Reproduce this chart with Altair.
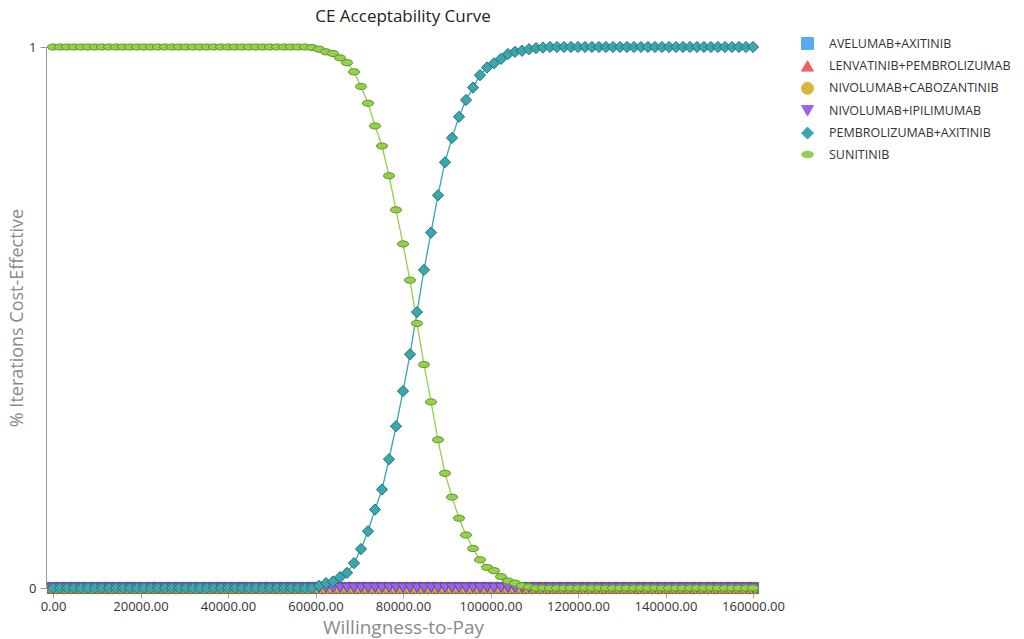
import altair as alt
import pandas as pd

wtp = [i * 1600 for i in range(101)]

series_names = [
    "AVELUMAB+AXITINIB",
    "LENVATINIB+PEMBROLIZUMAB",
    "NIVOLUMAB+CABOZANTINIB",
    "NIVOLUMAB+IPILIMUMAB",
    "PEMBROLIZUMAB+AXITINIB",
    "SUNITINIB",
]

avelumab = [0.0] * 101
lenvatinib = [0.0] * 101
cabozantinib = [0.0] * 101
ipilimumab = [0.0] * 101

pembrolizumab = [0.0] * 38 + [
    0.004, 0.009, 0.012, 0.020, 0.028, 0.046, 0.072, 0.105, 0.145, 0.182,
    0.238, 0.299, 0.364, 0.432, 0.510, 0.588, 0.657, 0.726, 0.787, 0.832,
    0.871, 0.902, 0.925, 0.948, 0.962, 0.970, 0.978, 0.987, 0.991, 0.993,
    0.996, 0.998, 0.999,
] + [1.0] * 30

sunitinib = [1.0] * 37 + [0.999] + [
    0.996, 0.991, 0.988, 0.980, 0.971, 0.954, 0.927, 0.896, 0.854, 0.817,
    0.762, 0.699, 0.636, 0.569, 0.489, 0.413, 0.344, 0.274, 0.212, 0.168,
    0.129, 0.098, 0.073, 0.052, 0.038, 0.032, 0.021, 0.013, 0.009, 0.004,
    0.002,
] + [0.0] * 32

x_ticks = [0, 20000, 40000, 60000, 80000, 100000, 120000, 140000, 160000]
y_ticks = [0, 1]

line_colors = ["#5aaaf0", "#ef6060", "#d9b73a", "#9c63e6", "#3aa6ae", "#95cf4c"]
stroke_colors = ["#3a7fc0", "#c03a3a", "#9c8220", "#6a3db0", "#236f76", "#5e9a2c"]
ellipse = "M-1,0A1,0.55 0 1,0 1,0A1,0.55 0 1,0 -1,0Z"
shapes = ["square", "triangle-up", "circle", "triangle-down", "diamond", ellipse]

values = [avelumab, lenvatinib, cabozantinib, ipilimumab, pembrolizumab, sunitinib]
rows = []
for order, (name, vals) in enumerate(zip(series_names, values)):
    for x, v in zip(wtp, vals):
        rows.append({"wtp": x, "value": v, "series": name, "order": order})
df = pd.DataFrame(rows)

FONT = "Open Sans"

x_enc = alt.X(
    "wtp:Q",
    scale=alt.Scale(domain=[0, 160000], nice=False, zero=False),
    axis=alt.Axis(
        values=x_ticks, format=".2f", title="Willingness-to-Pay",
        grid=False, domain=False, offset=5, tickSize=5, tickColor="#aaaaaa",
        labelPadding=2, labelFontSize=13, labelColor="#333333", labelFont=FONT,
        titleFont=FONT, titleFontSize=19, titleFontWeight="normal",
        titleColor="#8a8a8a", titlePadding=5, labelOverlap=False, labelFlush=False,
    ),
)
y_enc = alt.Y(
    "value:Q",
    scale=alt.Scale(domain=[0, 1], nice=False),
    axis=alt.Axis(
        values=y_ticks, format="d", title="% Iterations Cost-Effective",
        grid=False, domain=True, domainColor="#999999", offset=7,
        tickSize=6, tickColor="#999999", labelPadding=4, labelFontSize=13,
        labelColor="#333333", labelFont=FONT, titleFont=FONT, titleFontSize=18,
        titleFontWeight="normal", titleColor="#8a8a8a", titlePadding=2,
        labelFlush=False,
    ),
)

color_scale = alt.Scale(domain=series_names, range=line_colors)
stroke_scale = alt.Scale(domain=series_names, range=stroke_colors)
shape_scale = alt.Scale(domain=series_names, range=shapes)

legend = alt.Legend(
    title=None, orient="none", legendX=748, legendY=-10,
    labelFont=FONT, labelFontSize=12.5, labelColor="#333333", labelLimit=400,
    symbolSize=144, symbolStrokeWidth=1, rowPadding=6.4, labelOffset=15,
)

lines = alt.Chart(df).mark_line(strokeWidth=1.3).encode(
    x=x_enc, y=y_enc,
    color=alt.Color("series:N", scale=color_scale, legend=legend),
    detail="series:N",
    order="wtp:Q",
)

points = alt.Chart(df).mark_point(filled=True, opacity=1, size=125, strokeWidth=1).encode(
    x=x_enc, y=y_enc,
    color=alt.Color("series:N", scale=color_scale, legend=legend),
    stroke=alt.Stroke("series:N", scale=stroke_scale, legend=legend),
    shape=alt.Shape("series:N", scale=shape_scale, legend=legend),
)

chart = alt.layer(lines, points).properties(
    width=700, height=541,
    title=alt.Title("CE Acceptability Curve", font=FONT, fontSize=17,
                    fontWeight="normal", color="#222222", offset=11,
                    anchor="middle", frame="group"),
    autosize=alt.AutoSizeParams(type="none"),
    padding={"left": 45, "top": 39, "right": 263, "bottom": 50},
).configure_view(stroke=None)

chart.save("out.html", embed_options={"renderer": "svg", "actions": False})
